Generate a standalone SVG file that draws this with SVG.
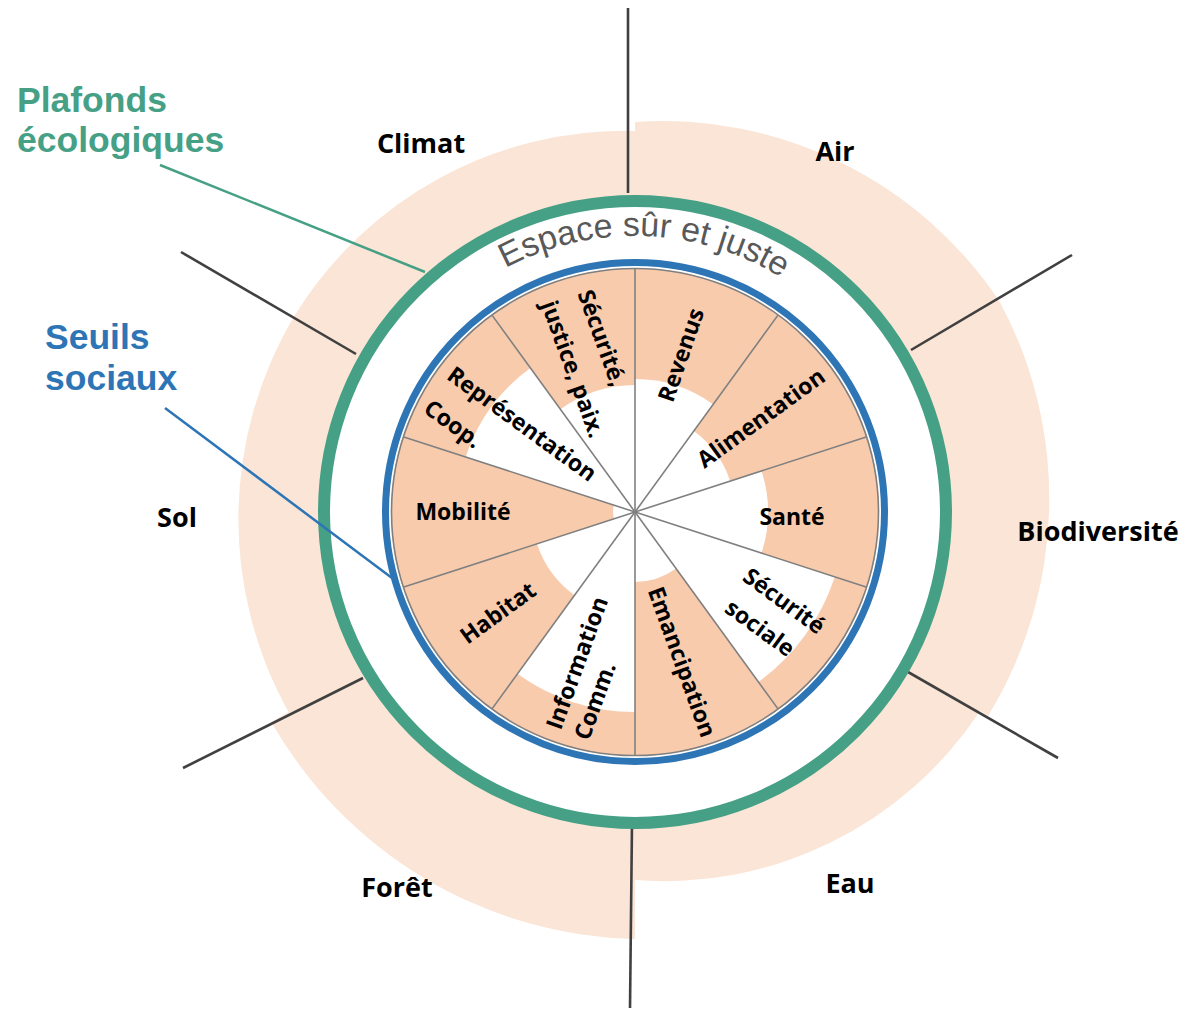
<svg xmlns="http://www.w3.org/2000/svg" width="1187" height="1010" viewBox="0 0 1187 1010">
<defs>
<style>
.pale{fill:#FBE5D6}
.peach{fill:#F8CBAD}
.hole{fill:#FFFFFF}
.spoke{stroke:#808080;stroke-width:1.6;fill:none}
.axis{stroke:#404040;stroke-width:2.6;fill:none}
.lbl{font-family:"Open Sans","Noto Sans",sans-serif;font-weight:bold;font-size:23px;fill:#000;text-anchor:middle}
.outer{font-family:"Open Sans","Noto Sans",sans-serif;font-weight:bold;font-size:27px;fill:#000;text-anchor:middle}
.legend{font-family:"Liberation Sans",Arial,sans-serif;font-weight:bold;font-size:35.5px}
</style>
<path id="arcText" d="M400.9,365.7 A276,276 0 0 1 878.7,382.4"/>
</defs>
<rect width="1187" height="1010" fill="#FFFFFF"/>

<g id="ecological-overshoot">
<path class="pale" d="M635,122 A405,405 0 0 1 999.6,301.5 A416,416 0 0 1 988,716 L980,711 A378,378 0 0 1 635,880 L635,939 A430,430 0 0 1 271.3,722 L288.6,712 A396,396 0 0 1 294.7,315.5 A388,388 0 0 1 635,131 Z"/>
<circle cx="635" cy="512" r="311" fill="#FFFFFF"/>
</g>

<g id="connectors">
<line class="axis" x1="628" y1="8" x2="628" y2="193"/>
<line class="axis" x1="911" y1="350" x2="1072" y2="255"/>
<line class="axis" x1="908" y1="672" x2="1058" y2="758"/>
<line class="axis" x1="632" y1="823" x2="630" y2="1008"/>
<line class="axis" x1="363" y1="678" x2="183" y2="768"/>
<line class="axis" x1="356" y1="354" x2="181" y2="252"/>
</g>

<g id="ecological-ceiling">
<circle cx="635" cy="512" r="311" fill="none" stroke="#46A085" stroke-width="12"/>
</g>

<g id="social-foundation">
<circle class="peach" cx="635" cy="512" r="244"/>
<path class="hole" d="M635,512 L713.2,404.4 A133,133 0 0 0 635,379 Z"/>
<path class="hole" d="M635,512 L730.1,481.1 A100,100 0 0 0 693.8,431.1 Z"/>
<path class="hole" d="M635,512 L761.5,553.1 A133,133 0 0 0 761.5,470.9 Z"/>
<path class="hole" d="M635,512 L758.4,681.9 A210,210 0 0 0 834.7,576.9 Z"/>
<path class="hole" d="M635,512 L635,582 A70,70 0 0 0 676.1,568.6 Z"/>
<path class="hole" d="M635,512 L517.4,673.8 A200,200 0 0 0 635,712 Z"/>
<path class="hole" d="M635,512 L537,543.8 A103,103 0 0 0 574.5,595.3 Z"/>
<path class="hole" d="M635,512 L614.1,505.2 A22,22 0 0 0 614.1,518.8 Z"/>
<path class="hole" d="M635,512 L530.4,368 A178,178 0 0 0 465.7,457 Z"/>
<path class="hole" d="M635,512 L635,385 A127,127 0 0 0 560.4,409.3 Z"/>
<g class="spoke">
<line x1="635" y1="512" x2="635" y2="269"/>
<line x1="635" y1="512" x2="777.8" y2="315.4"/>
<line x1="635" y1="512" x2="866.1" y2="436.9"/>
<line x1="635" y1="512" x2="866.1" y2="587.1"/>
<line x1="635" y1="512" x2="777.8" y2="708.6"/>
<line x1="635" y1="512" x2="635" y2="755"/>
<line x1="635" y1="512" x2="492.2" y2="708.6"/>
<line x1="635" y1="512" x2="403.9" y2="587.1"/>
<line x1="635" y1="512" x2="403.9" y2="436.9"/>
<line x1="635" y1="512" x2="492.2" y2="315.4"/>
<circle cx="635" cy="512" r="243.5"/>
</g>
<circle cx="635" cy="512" r="249.5" fill="none" stroke="#2E75B6" stroke-width="7"/>
</g>

<g id="safe-space-label">
<text font-family="Liberation Sans, Arial, sans-serif" font-size="34" fill="#595959" text-anchor="middle"><textPath href="#arcText" startOffset="50%">Espace sûr et juste</textPath></text>
</g>

<g id="sector-revenus"><text class="lbl" transform="translate(681,355) rotate(-71)" y="8">Revenus</text></g>
<g id="sector-alimentation"><text class="lbl" transform="translate(761,418) rotate(-36)" y="8">Alimentation</text></g>
<g id="sector-sante"><text class="lbl" x="792" y="525">Santé</text></g>
<g id="sector-securite-sociale">
<text class="lbl" transform="translate(784,601) rotate(36)" y="8">Sécurité</text>
<text class="lbl" transform="translate(760,628) rotate(36)" y="8">sociale</text>
</g>
<g id="sector-emancipation"><text class="lbl" transform="translate(682,662) rotate(70)" y="8">Emancipation</text></g>
<g id="sector-information">
<text class="lbl" transform="translate(577,663) rotate(-70)" y="8">Information</text>
<text class="lbl" transform="translate(595,701) rotate(-70)" y="8">Comm.</text>
</g>
<g id="sector-habitat"><text class="lbl" transform="translate(498,613) rotate(-36)" y="8">Habitat</text></g>
<g id="sector-mobilite"><text class="lbl" x="463" y="520">Mobilité</text></g>
<g id="sector-representation">
<text class="lbl" transform="translate(522,424) rotate(36)" y="8">Représentation</text>
<text class="lbl" transform="translate(453,424) rotate(36)" y="8">Coop.</text>
</g>
<g id="sector-securite-justice">
<text class="lbl" transform="translate(602,338) rotate(70)" y="8">Sécurité,</text>
<text class="lbl" transform="translate(573,369) rotate(70)" y="8">justice, paix.</text>
</g>

<g id="boundary-climat"><text class="outer" x="421" y="153">Climat</text></g>
<g id="boundary-air"><text class="outer" x="835" y="161">Air</text></g>
<g id="boundary-biodiversite"><text class="outer" x="1098" y="541">Biodiversité</text></g>
<g id="boundary-sol"><text class="outer" x="177" y="527">Sol</text></g>
<g id="boundary-foret"><text class="outer" x="397" y="897">Forêt</text></g>
<g id="boundary-eau"><text class="outer" x="850" y="893">Eau</text></g>

<g id="legend-plafonds">
<text class="legend" fill="#46A085"><tspan x="17" y="112">Plafonds</tspan><tspan x="17" y="152">écologiques</tspan></text>
</g>
<g id="legend-seuils">
<text class="legend" fill="#2E75B6"><tspan x="45" y="349">Seuils</tspan><tspan x="45" y="390">sociaux</tspan></text>
</g>

<g id="leader-lines">
<line x1="160" y1="165" x2="425" y2="272" stroke="#46A085" stroke-width="2.5"/>
<line x1="165" y1="408" x2="392" y2="578" stroke="#2E75B6" stroke-width="2.5"/>
</g>
</svg>
